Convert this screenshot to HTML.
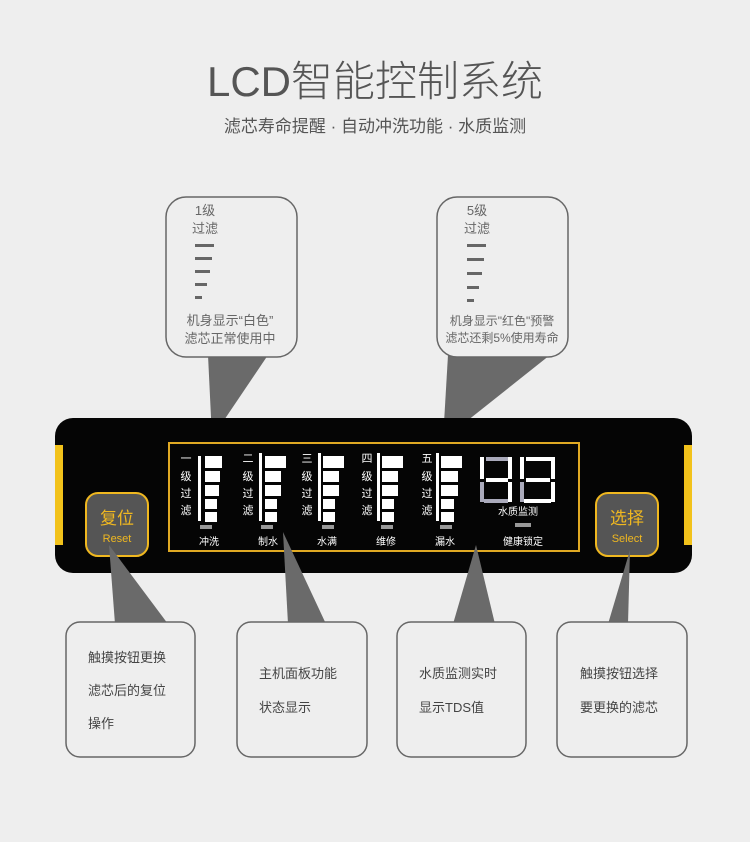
<!DOCTYPE html>
<html><head><meta charset="utf-8"><style>
body{margin:0;background:#eeeeee;}
svg{display:block}
text{font-family:"Liberation Sans","Noto Sans CJK SC",sans-serif;}
</style></head><body>
<svg width="750" height="842" viewBox="0 0 750 842" xmlns="http://www.w3.org/2000/svg">
<rect width="750" height="842" fill="#eeeeee"/>
<text x="375" y="96" text-anchor="middle" font-size="42" fill="#555" font-weight="300">LCD智能控制系统</text>
<text x="375" y="132" text-anchor="middle" font-size="17" fill="#555">滤芯寿命提醒 · 自动冲洗功能 · 水质监测</text>

<!-- top bubbles -->
<polygon points="208,355 268,355 212,438" fill="#6a6a6a"/>
<polygon points="448,355 550,355 443,440" fill="#6a6a6a"/>
<rect x="166" y="197" width="131" height="160" rx="20" fill="#eeeeee" stroke="#666" stroke-width="1.5"/>
<rect x="437" y="197" width="131" height="160" rx="20" fill="#eeeeee" stroke="#666" stroke-width="1.5"/>
<g fill="#666" font-size="13">
<text x="205" y="215" text-anchor="middle">1级</text>
<text x="205" y="233" text-anchor="middle">过滤</text>
<text x="230" y="325" text-anchor="middle">机身显示“白色”</text>
<text x="230" y="343" text-anchor="middle">滤芯正常使用中</text>
<text x="477" y="215" text-anchor="middle">5级</text>
<text x="477" y="233" text-anchor="middle">过滤</text>
<text x="502" y="325" text-anchor="middle" font-size="12">机身显示"红色"预警</text>
<text x="502" y="342" text-anchor="middle" font-size="12">滤芯还剩5%使用寿命</text>
</g>
<g fill="#666">
<rect x="195" y="244" width="19" height="3"/><rect x="195" y="257" width="17" height="3"/><rect x="195" y="270" width="15" height="3"/><rect x="195" y="283" width="12" height="3"/><rect x="195" y="296" width="7" height="3"/>
<rect x="467" y="244" width="19" height="3"/><rect x="467" y="258" width="17" height="3"/><rect x="467" y="272" width="15" height="3"/><rect x="467" y="286" width="12" height="3"/><rect x="467" y="299" width="7" height="3"/>
</g>

<!-- panel -->
<rect x="55" y="418" width="637" height="155" rx="18" fill="#050505"/>
<rect x="55" y="445" width="8" height="100" fill="#f2c21b"/>
<rect x="684" y="445" width="8" height="100" fill="#f2c21b"/>
<rect x="169" y="443" width="410" height="108" fill="none" stroke="#e0a923" stroke-width="2"/>

<!-- buttons -->
<rect x="86" y="493" width="62" height="63" rx="12" fill="#555" stroke="#f0b820" stroke-width="2"/>
<text x="117" y="524" text-anchor="middle" font-size="17" fill="#f0b820">复位</text>
<text x="117" y="542" text-anchor="middle" font-size="11" fill="#f0b820">Reset</text>
<rect x="596" y="493" width="62" height="63" rx="12" fill="#555" stroke="#f0b820" stroke-width="2"/>
<text x="627" y="524" text-anchor="middle" font-size="17" fill="#f0b820">选择</text>
<text x="627" y="542" text-anchor="middle" font-size="11" fill="#f0b820">Select</text>

<!-- columns -->
<g fill="#fff" font-size="11">
<g transform="translate(0,0)">
<text x="186" y="462" text-anchor="middle">一</text><text x="186" y="480" text-anchor="middle">级</text><text x="186" y="497" text-anchor="middle">过</text><text x="186" y="514" text-anchor="middle">滤</text>
<rect x="198" y="456" width="3" height="65"/>
<rect x="205" y="456" width="17" height="12"/><rect x="205" y="471" width="15" height="11"/><rect x="205" y="485" width="14" height="11"/><rect x="205" y="499" width="12" height="10"/><rect x="205" y="512" width="12" height="10"/>
</g>
<g>
<text x="248" y="462" text-anchor="middle">二</text><text x="248" y="480" text-anchor="middle">级</text><text x="248" y="497" text-anchor="middle">过</text><text x="248" y="514" text-anchor="middle">滤</text>
<rect x="259" y="453" width="3" height="68"/>
<rect x="265" y="456" width="21" height="12"/><rect x="265" y="471" width="16" height="11"/><rect x="265" y="485" width="16" height="11"/><rect x="265" y="499" width="12" height="10"/><rect x="265" y="512" width="12" height="10"/>
</g>
<g>
<text x="307" y="462" text-anchor="middle">三</text><text x="307" y="480" text-anchor="middle">级</text><text x="307" y="497" text-anchor="middle">过</text><text x="307" y="514" text-anchor="middle">滤</text>
<rect x="318" y="453" width="3" height="68"/>
<rect x="323" y="456" width="21" height="12"/><rect x="323" y="471" width="16" height="11"/><rect x="323" y="485" width="16" height="11"/><rect x="323" y="499" width="12" height="10"/><rect x="323" y="512" width="12" height="10"/>
</g>
<g>
<text x="367" y="462" text-anchor="middle">四</text><text x="367" y="480" text-anchor="middle">级</text><text x="367" y="497" text-anchor="middle">过</text><text x="367" y="514" text-anchor="middle">滤</text>
<rect x="377" y="453" width="3" height="68"/>
<rect x="382" y="456" width="21" height="12"/><rect x="382" y="471" width="16" height="11"/><rect x="382" y="485" width="16" height="11"/><rect x="382" y="499" width="12" height="10"/><rect x="382" y="512" width="12" height="10"/>
</g>
<g>
<text x="427" y="462" text-anchor="middle">五</text><text x="427" y="480" text-anchor="middle">级</text><text x="427" y="497" text-anchor="middle">过</text><text x="427" y="514" text-anchor="middle">滤</text>
<rect x="436" y="453" width="3" height="68"/>
<rect x="441" y="456" width="21" height="12"/><rect x="441" y="471" width="17" height="11"/><rect x="441" y="485" width="17" height="11"/><rect x="441" y="499" width="13" height="10"/><rect x="441" y="512" width="13" height="10"/>
</g>
<!-- digits -->
<rect x="480" y="457" width="4" height="22"/><rect x="486" y="457" width="26" height="4" fill="#aab"/><rect x="508" y="457" width="4" height="22"/><rect x="486" y="478" width="22" height="4"/>
<rect x="480" y="482" width="4" height="20" fill="#aab"/><rect x="508" y="482" width="4" height="20"/><rect x="484" y="499" width="24" height="4" fill="#aab"/>
<rect x="520" y="457" width="4" height="22"/><rect x="526" y="457" width="26" height="4"/><rect x="551" y="457" width="4" height="22"/><rect x="526" y="478" width="24" height="4"/>
<rect x="520" y="482" width="4" height="20" fill="#aab"/><rect x="551" y="482" width="4" height="20"/><rect x="524" y="499" width="27" height="4"/>
<text x="518" y="515" text-anchor="middle" font-size="10">水质监测</text>
<g fill="#999"><rect x="200" y="525" width="12" height="4"/><rect x="261" y="525" width="12" height="4"/><rect x="322" y="525" width="12" height="4"/><rect x="381" y="525" width="12" height="4"/><rect x="440" y="525" width="12" height="4"/><rect x="515" y="523" width="16" height="4"/></g>
<g font-size="10"><text x="209" y="545" text-anchor="middle">冲洗</text><text x="268" y="545" text-anchor="middle">制水</text><text x="327" y="545" text-anchor="middle">水满</text><text x="386" y="545" text-anchor="middle">维修</text><text x="445" y="545" text-anchor="middle">漏水</text><text x="523" y="545" text-anchor="middle">健康锁定</text></g>
</g>

<!-- bottom pointers -->
<g fill="#6a6a6a">
<polygon points="109,545 115,624 168,624"/>
<polygon points="283,532 288,624 326,624"/>
<polygon points="476,545 453,624 495,624"/>
<polygon points="630,550 608,624 628,624"/>
</g>
<g fill="#eeeeee" stroke="#666" stroke-width="1.5">
<rect x="66" y="622" width="129" height="135" rx="14"/>
<rect x="237" y="622" width="130" height="135" rx="14"/>
<rect x="397" y="622" width="129" height="135" rx="14"/>
<rect x="557" y="622" width="130" height="135" rx="14"/>
</g>
<g fill="#444" font-size="13">
<text x="88" y="662">触摸按钮更换</text>
<text x="88" y="695">滤芯后的复位</text>
<text x="88" y="728">操作</text>
<text x="259" y="678">主机面板功能</text>
<text x="259" y="712">状态显示</text>
<text x="419" y="678">水质监测实时</text>
<text x="419" y="712">显示TDS值</text>
<text x="580" y="678">触摸按钮选择</text>
<text x="580" y="712">要更换的滤芯</text>
</g>
</svg>
</body></html>
